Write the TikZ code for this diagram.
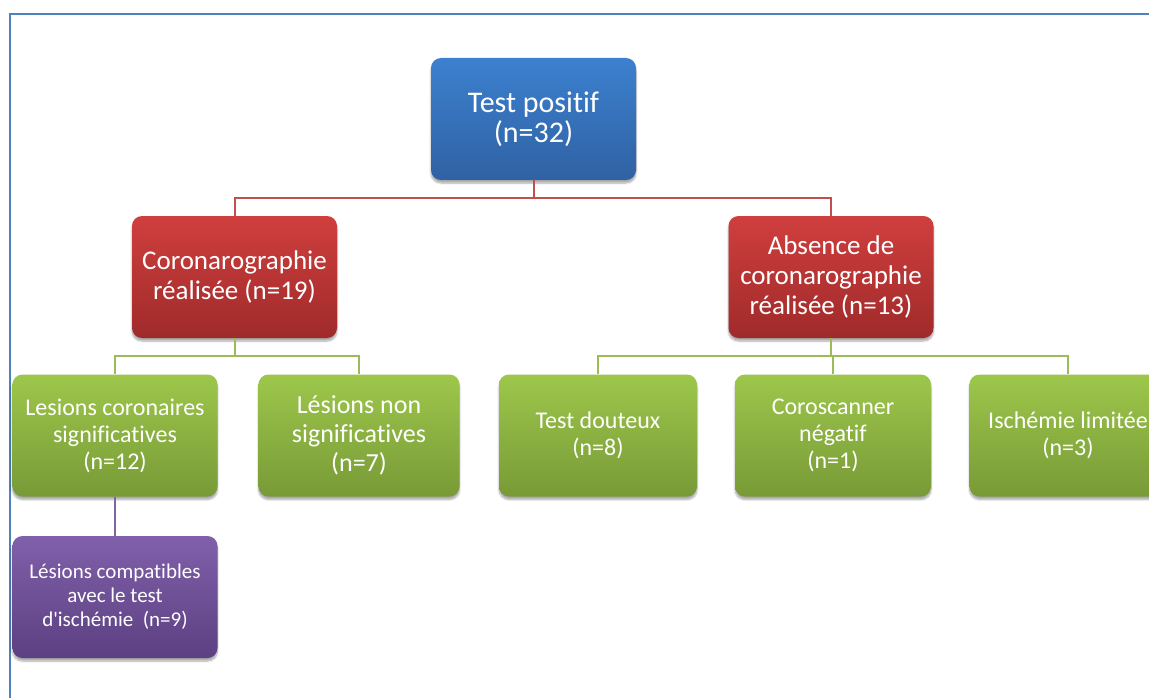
\documentclass[tikz,border=0pt]{standalone}
\usepackage{fontspec}
\setmainfont{Carlito}[Ligatures={TeXOff,NoCommon}]
\usetikzlibrary{positioning,shadows.blur}

\definecolor{blueTop}{HTML}{3C80CF}
\definecolor{blueBot}{HTML}{2F62A3}
\definecolor{redTop}{HTML}{CF3F3E}
\definecolor{redBot}{HTML}{A02A2A}
\definecolor{greenTop}{HTML}{9DC74B}
\definecolor{greenBot}{HTML}{789A37}
\definecolor{purpleTop}{HTML}{8060AA}
\definecolor{purpleBot}{HTML}{5C4082}
\definecolor{redLine}{HTML}{C0504D}
\definecolor{greenLine}{HTML}{9BBB59}
\definecolor{purpleLine}{HTML}{8064A2}
\definecolor{frameBlue}{HTML}{4F81BD}

\begin{document}
\begin{tikzpicture}
[
	          x = 1pt,
	          y = -1pt,
	   box/.style = { rounded corners=10pt, minimum width=205pt, minimum height=122pt,
	                  align=center, text=white, inner sep=2pt,
	                  blur shadow={shadow xshift=0pt, shadow yshift=-3pt, shadow blur steps=6, shadow opacity=35} },
	 bluebox/.style = { box, top color=blueTop, bottom color=blueBot, font=\fontsize{30}{30}\selectfont },
	  redbox/.style = { box, top color=redTop, bottom color=redBot, font=\fontsize{27}{30}\selectfont },
	greenbox/.style = { box, top color=greenTop, bottom color=greenBot, font=\fontsize{24}{27}\selectfont },
	 bigtext/.style = { font=\fontsize{26}{29}\selectfont },
   purplebox/.style = { box, top color=purpleTop, bottom color=purpleBot, font=\fontsize{21}{24}\selectfont },
	 redlink/.style = { draw=redLine, line width=2pt },
   greenlink/.style = { draw=greenLine, line width=2pt },
  purplelink/.style = { draw=purpleLine, line width=2pt }
]

    \useasboundingbox (0,0) rectangle (1149,698);
    \draw[frameBlue, line width=2pt] (10,698) -- (10,14) -- (1149,14);

    \node (TestPositif)    at ( 533.5,119)   [bluebox]   {Test positif\\(n=32)};

    \node (CoroRealisee)   at ( 234.5,277)   [redbox]    {Coronarographie\\réalisée (n=19)};
    \node (AbsenceCoro)    at ( 831,  277)   [redbox]    {Absence de\\coronarographie\\réalisée (n=13)};

    \node (LesionsSignif)  at ( 115,  435.5) [greenbox]  {Lesions coronaires\\significatives\\(n=12)};
    \node (LesionsNonSig)  at ( 359,  435.5) [greenbox, minimum width=201pt, bigtext] {Lésions non\\significatives\\(n=7)};
    \node (TestDouteux)    at ( 598,  435.5) [greenbox, minimum width=198pt]  {Test douteux\\(n=8)};
    \node (Coroscanner)    at ( 833,  435.5) [greenbox, minimum width=196pt]  {Coroscanner\\négatif\\(n=1)};
    \node (IschemieLim)    at (1068,  435.5) [greenbox, minimum width=197pt]  {Ischémie limitée\\(n=3)};

    \node (LesionsCompat)  at ( 115,  597)   [purplebox] {Lésions compatibles\\avec le test\\d'ischémie\ \ (n=9)};

    \coordinate (TopJoin)   at (533.5,198);
    \coordinate (LeftJoin)  at (234.5,356);
    \coordinate (RightJoin) at (831,  356);

    \draw[redlink] (TestPositif) -- (TopJoin) -| (CoroRealisee);
    \draw[redlink] (TopJoin) -| (AbsenceCoro);

    \draw[greenlink] (CoroRealisee) -- (LeftJoin) -| (LesionsSignif);
    \draw[greenlink] (LeftJoin) -| (LesionsNonSig);

    \draw[greenlink] (AbsenceCoro) -- (RightJoin) -| (TestDouteux);
    \draw[greenlink] (RightJoin) -| (Coroscanner);
    \draw[greenlink] (RightJoin) -| (IschemieLim);

    \draw[purplelink] (LesionsSignif) -- (LesionsCompat);

\end{tikzpicture}
\end{document}
